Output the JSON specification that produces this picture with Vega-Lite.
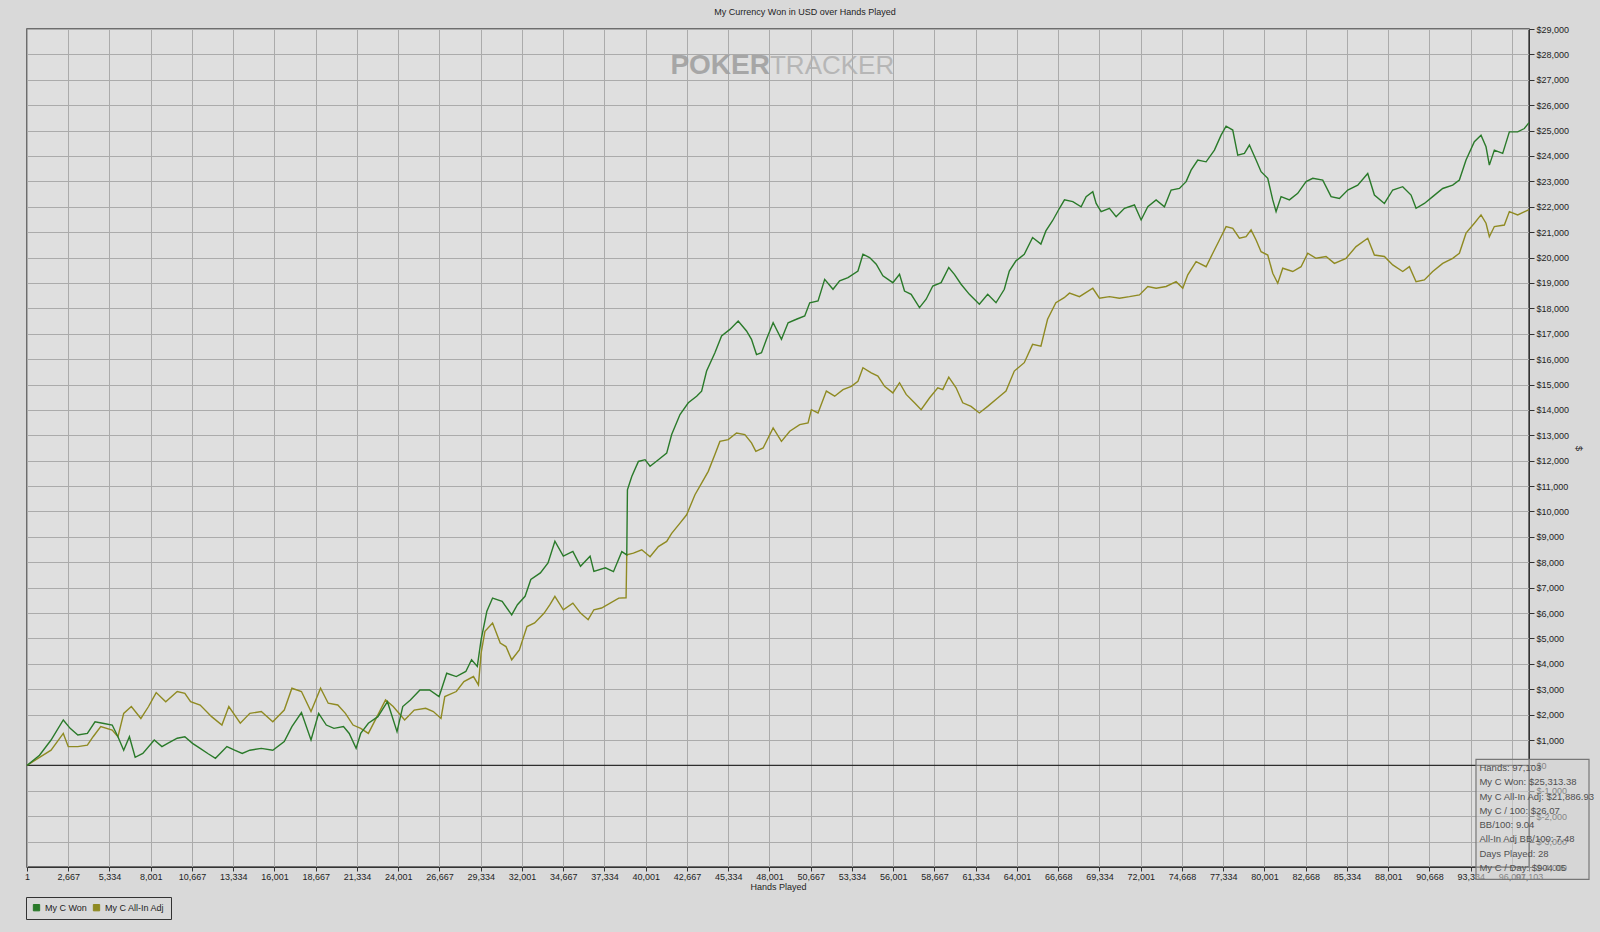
{
  "$schema": "https://vega.github.io/schema/vega-lite/v6.json",
  "description": "PokerTracker style graph: currency won over hands played",
  "width": 1502,
  "height": 838,
  "autosize": {"type": "none"},
  "padding": {"left": 27, "top": 29, "right": 71, "bottom": 65},
  "background": "#d9d9d9",
  "title": {
    "text": "My Currency Won in USD over Hands Played",
    "font": "Liberation Sans",
    "fontSize": 9,
    "fontWeight": "normal",
    "color": "#1e1e1e",
    "anchor": "middle",
    "dx": 27,
    "offset": 8
  },
  "config": {
    "font": "Liberation Sans",
    "view": {"fill": "#dfdfdf", "stroke": "#4a4a4a", "strokeWidth": 1.5},
    "axis": {
      "labelFont": "Liberation Sans",
      "labelFontSize": 9,
      "labelColor": "#1e1e1e",
      "labelOverlap": false,
      "labelFlush": false,
      "titleFont": "Liberation Sans",
      "titleFontSize": 9,
      "titleFontWeight": "normal",
      "titleColor": "#1e1e1e",
      "tickColor": "#333333",
      "domainColor": "#333333",
      "gridColor": "#ababab",
      "gridOpacity": 1,
      "gridWidth": 1
    },
    "axisY": {"tickCount": 40, "labelOverlap": false},
    "axisX": {"tickCount": 40}
  },
  "datasets": {
    "won": [
      {"h":1,"v":0},{"h":811,"v":400},{"h":1556,"v":1000},{"h":2347,"v":1790},{"h":2791,"v":1460},{"h":3286,"v":1200},{"h":3904,"v":1260},{"h":4398,"v":1720},{"h":4893,"v":1660},{"h":5510,"v":1590},{"h":5881,"v":1130},{"h":6252,"v":600},{"h":6622,"v":1130},{"h":6993,"v":320},{"h":7487,"v":470},{"h":8229,"v":1000},{"h":8723,"v":740},{"h":9094,"v":870},{"h":9712,"v":1070},{"h":10206,"v":1130},{"h":10700,"v":870},{"h":11195,"v":670},{"h":11689,"v":470},{"h":12183,"v":280},{"h":12925,"v":740},{"h":13419,"v":600},{"h":13914,"v":470},{"h":14408,"v":600},{"h":15149,"v":670},{"h":15891,"v":600},{"h":16632,"v":940},{"h":17126,"v":1530},{"h":17744,"v":2080},{"h":18362,"v":1000},{"h":18856,"v":2050},{"h":19350,"v":1590},{"h":19845,"v":1460},{"h":20462,"v":1530},{"h":20833,"v":1260},{"h":21278,"v":670},{"h":21574,"v":1260},{"h":22069,"v":1660},{"h":22686,"v":1920},{"h":23304,"v":2510},{"h":23922,"v":1330},{"h":24293,"v":2320},{"h":24787,"v":2580},{"h":25405,"v":2970},{"h":26023,"v":2970},{"h":26641,"v":2710},{"h":27135,"v":3630},{"h":27753,"v":3500},{"h":28371,"v":3700},{"h":28741,"v":4160},{"h":29112,"v":3900},{"h":29359,"v":4950},{"h":29730,"v":6070},{"h":30100,"v":6590},{"h":30718,"v":6460},{"h":31336,"v":5930},{"h":31707,"v":6330},{"h":32201,"v":6660},{"h":32572,"v":7320},{"h":33190,"v":7580},{"h":33684,"v":7970},{"h":34129,"v":8830},{"h":34673,"v":8240},{"h":35291,"v":8430},{"h":35785,"v":7840},{"h":36403,"v":8240},{"h":36650,"v":7640},{"h":37392,"v":7780},{"h":37915,"v":7630},{"h":38453,"v":8420},{"h":38775,"v":8290},{"h":38818,"v":10850},{"h":39098,"v":11380},{"h":39528,"v":11970},{"h":39958,"v":12040},{"h":40281,"v":11780},{"h":40818,"v":12040},{"h":41356,"v":12300},{"h":41678,"v":13030},{"h":42216,"v":13820},{"h":42754,"v":14280},{"h":43291,"v":14540},{"h":43614,"v":14740},{"h":43936,"v":15530},{"h":44474,"v":16250},{"h":44904,"v":16910},{"h":45442,"v":17170},{"h":45979,"v":17500},{"h":46517,"v":17110},{"h":46839,"v":16780},{"h":47162,"v":16180},{"h":47485,"v":16250},{"h":47807,"v":16780},{"h":48237,"v":17430},{"h":48775,"v":16780},{"h":49205,"v":17430},{"h":49743,"v":17570},{"h":50280,"v":17700},{"h":50603,"v":18220},{"h":51140,"v":18290},{"h":51570,"v":19140},{"h":52108,"v":18750},{"h":52538,"v":19080},{"h":53076,"v":19210},{"h":53721,"v":19470},{"h":54043,"v":20130},{"h":54473,"v":20000},{"h":54903,"v":19740},{"h":55333,"v":19280},{"h":55978,"v":19010},{"h":56408,"v":19340},{"h":56731,"v":18680},{"h":57161,"v":18550},{"h":57699,"v":18030},{"h":58129,"v":18360},{"h":58559,"v":18880},{"h":59097,"v":19010},{"h":59591,"v":19610},{"h":59957,"v":19340},{"h":60387,"v":18950},{"h":60925,"v":18550},{"h":61570,"v":18160},{"h":62108,"v":18550},{"h":62646,"v":18220},{"h":63183,"v":18750},{"h":63506,"v":19470},{"h":63936,"v":19870},{"h":64473,"v":20130},{"h":65011,"v":20790},{"h":65549,"v":20530},{"h":65871,"v":21050},{"h":66301,"v":21450},{"h":66749,"v":21940},{"h":67072,"v":22270},{"h":67611,"v":22200},{"h":68149,"v":22000},{"h":68472,"v":22400},{"h":68903,"v":22590},{"h":69119,"v":22130},{"h":69442,"v":21810},{"h":69980,"v":21940},{"h":70411,"v":21610},{"h":70950,"v":21940},{"h":71596,"v":22070},{"h":72027,"v":21480},{"h":72458,"v":22000},{"h":72996,"v":22270},{"h":73535,"v":22000},{"h":73966,"v":22660},{"h":74504,"v":22720},{"h":74935,"v":22990},{"h":75258,"v":23440},{"h":75689,"v":23840},{"h":76228,"v":23770},{"h":76766,"v":24230},{"h":77197,"v":24820},{"h":77520,"v":25170},{"h":77951,"v":25020},{"h":78274,"v":24030},{"h":78705,"v":24100},{"h":79028,"v":24430},{"h":79459,"v":23840},{"h":79782,"v":23380},{"h":80213,"v":23120},{"h":80537,"v":22270},{"h":80752,"v":21810},{"h":81075,"v":22400},{"h":81614,"v":22270},{"h":82153,"v":22530},{"h":82691,"v":22990},{"h":83122,"v":23120},{"h":83769,"v":23050},{"h":84308,"v":22400},{"h":84846,"v":22330},{"h":85385,"v":22660},{"h":86031,"v":22850},{"h":86677,"v":23310},{"h":87108,"v":22460},{"h":87754,"v":22130},{"h":88293,"v":22660},{"h":88939,"v":22790},{"h":89478,"v":22460},{"h":89801,"v":21940},{"h":90339,"v":22130},{"h":90878,"v":22400},{"h":91524,"v":22720},{"h":92170,"v":22850},{"h":92601,"v":23050},{"h":93032,"v":23840},{"h":93570,"v":24560},{"h":94001,"v":24820},{"h":94324,"v":24360},{"h":94540,"v":23640},{"h":94863,"v":24230},{"h":95402,"v":24100},{"h":95833,"v":24950},{"h":96371,"v":24950},{"h":96802,"v":25080},{"h":97103,"v":25313}
    ],
    "adj": [
      {"h":1,"v":0},{"h":811,"v":320},{"h":1556,"v":600},{"h":2347,"v":1260},{"h":2668,"v":740},{"h":3286,"v":740},{"h":3904,"v":800},{"h":4275,"v":1130},{"h":4769,"v":1530},{"h":5510,"v":1390},{"h":5881,"v":1130},{"h":6252,"v":2050},{"h":6746,"v":2320},{"h":7364,"v":1850},{"h":7858,"v":2320},{"h":8353,"v":2870},{"h":8971,"v":2510},{"h":9712,"v":2910},{"h":10206,"v":2840},{"h":10577,"v":2510},{"h":11195,"v":2380},{"h":11936,"v":1920},{"h":12603,"v":1590},{"h":13048,"v":2320},{"h":13790,"v":1660},{"h":14408,"v":2050},{"h":15149,"v":2120},{"h":15891,"v":1720},{"h":16632,"v":2180},{"h":17126,"v":3040},{"h":17744,"v":2910},{"h":18362,"v":2120},{"h":18980,"v":3040},{"h":19474,"v":2450},{"h":20092,"v":2380},{"h":20586,"v":2050},{"h":21080,"v":1590},{"h":21574,"v":1460},{"h":22069,"v":1260},{"h":22686,"v":1990},{"h":23180,"v":2580},{"h":23675,"v":2320},{"h":24416,"v":1790},{"h":25034,"v":2180},{"h":25775,"v":2250},{"h":26270,"v":2120},{"h":26764,"v":1850},{"h":27011,"v":2710},{"h":27753,"v":2910},{"h":28247,"v":3300},{"h":28865,"v":3500},{"h":29186,"v":3170},{"h":29359,"v":4420},{"h":29606,"v":5280},{"h":30100,"v":5610},{"h":30594,"v":4820},{"h":30965,"v":4680},{"h":31336,"v":4160},{"h":31830,"v":4550},{"h":32325,"v":5470},{"h":32819,"v":5610},{"h":33437,"v":6000},{"h":33808,"v":6330},{"h":34129,"v":6660},{"h":34673,"v":6130},{"h":35291,"v":6390},{"h":35785,"v":6000},{"h":36279,"v":5740},{"h":36650,"v":6130},{"h":37145,"v":6200},{"h":38257,"v":6590},{"h":38730,"v":6600},{"h":38775,"v":8290},{"h":39205,"v":8360},{"h":39743,"v":8490},{"h":40281,"v":8220},{"h":40818,"v":8620},{"h":41356,"v":8820},{"h":41678,"v":9140},{"h":42216,"v":9540},{"h":42646,"v":9870},{"h":43184,"v":10660},{"h":43614,"v":11120},{"h":44044,"v":11580},{"h":44474,"v":12240},{"h":44796,"v":12760},{"h":45334,"v":12830},{"h":45872,"v":13090},{"h":46409,"v":13030},{"h":46839,"v":12700},{"h":47119,"v":12370},{"h":47592,"v":12500},{"h":48237,"v":13290},{"h":48775,"v":12760},{"h":49312,"v":13160},{"h":49957,"v":13420},{"h":50495,"v":13490},{"h":50710,"v":14010},{"h":51140,"v":13880},{"h":51678,"v":14740},{"h":52216,"v":14540},{"h":52753,"v":14800},{"h":53291,"v":14930},{"h":53721,"v":15130},{"h":54043,"v":15660},{"h":54581,"v":15460},{"h":55011,"v":15330},{"h":55441,"v":14930},{"h":55978,"v":14670},{"h":56408,"v":15070},{"h":56838,"v":14610},{"h":57376,"v":14280},{"h":57806,"v":14010},{"h":58344,"v":14470},{"h":58882,"v":14870},{"h":59205,"v":14800},{"h":59591,"v":15290},{"h":60065,"v":14870},{"h":60495,"v":14280},{"h":61032,"v":14140},{"h":61570,"v":13880},{"h":62108,"v":14140},{"h":62753,"v":14470},{"h":63291,"v":14740},{"h":63829,"v":15530},{"h":64473,"v":15860},{"h":65011,"v":16580},{"h":65549,"v":16510},{"h":65979,"v":17570},{"h":66516,"v":18220},{"h":67054,"v":18420},{"h":67395,"v":18600},{"h":68042,"v":18460},{"h":68903,"v":18790},{"h":69334,"v":18400},{"h":69980,"v":18460},{"h":70627,"v":18400},{"h":71273,"v":18460},{"h":71919,"v":18530},{"h":72458,"v":18860},{"h":72996,"v":18790},{"h":73643,"v":18860},{"h":74289,"v":19050},{"h":74720,"v":18790},{"h":75043,"v":19320},{"h":75581,"v":19840},{"h":76228,"v":19640},{"h":76659,"v":20170},{"h":77089,"v":20690},{"h":77520,"v":21220},{"h":77951,"v":21150},{"h":78382,"v":20760},{"h":78812,"v":20820},{"h":79135,"v":21090},{"h":79459,"v":20690},{"h":79782,"v":20230},{"h":80213,"v":20100},{"h":80537,"v":19380},{"h":80860,"v":18990},{"h":81183,"v":19580},{"h":81829,"v":19450},{"h":82368,"v":19640},{"h":82799,"v":20170},{"h":83338,"v":19970},{"h":83984,"v":20040},{"h":84523,"v":19770},{"h":85277,"v":19970},{"h":85923,"v":20430},{"h":86677,"v":20760},{"h":87108,"v":20100},{"h":87754,"v":20040},{"h":88293,"v":19710},{"h":88939,"v":19450},{"h":89370,"v":19640},{"h":89801,"v":19050},{"h":90339,"v":19120},{"h":90878,"v":19450},{"h":91524,"v":19770},{"h":92170,"v":19970},{"h":92601,"v":20170},{"h":93032,"v":20960},{"h":93570,"v":21350},{"h":94001,"v":21680},{"h":94324,"v":21350},{"h":94540,"v":20820},{"h":94863,"v":21220},{"h":95510,"v":21280},{"h":95833,"v":21810},{"h":96371,"v":21680},{"h":97103,"v":21887}
    ]
  },
  "layer": [
    {
      "data": {"values": [{}]},
      "mark": {"type": "text", "align": "right", "baseline": "middle", "fontSize": 28, "fontWeight": "bold", "color": "#9d9d9d", "opacity": 0.85},
      "encoding": {
        "x": {
          "datum": 48034,
          "type": "quantitative",
          "scale": {"domain": [1, 97103], "nice": false, "zero": false},
          "axis": {
            "title": "Hands Played",
            "tickCount": 40,
            "values": [1, 2667, 5334, 8001, 10667, 13334, 16001, 18667, 21334, 24001, 26667, 29334, 32001, 34667, 37334, 40001, 42667, 45334, 48001, 50667, 53334, 56001, 58667, 61334, 64001, 66668, 69334, 72001, 74668, 77334, 80001, 82668, 85334, 88001, 90668, 93334, 96001, 97103],
            "labelExpr": "format(datum.value, ',d')",
            "grid": true,
            "labelOverlap": false,
            "labelFlush": false,
            "tickSize": 4,
            "labelPadding": 1,
            "titlePadding": 1
          }
        },
        "y": {
          "datum": 27560,
          "type": "quantitative",
          "scale": {"domain": [-4000, 29000], "nice": false, "zero": false},
          "axis": {"orient": "right", "title": "$", "tickCount": 40, "values": [-4000, -3000, -2000, -1000, 0, 1000, 2000, 3000, 4000, 5000, 6000, 7000, 8000, 9000, 10000, 11000, 12000, 13000, 14000, 15000, 16000, 17000, 18000, 19000, 20000, 21000, 22000, 23000, 24000, 25000, 26000, 27000, 28000, 29000], "labelExpr": "datum.value < 0 ? '$-' + format(-datum.value, ',d') : '$' + format(datum.value, ',d')", "grid": true, "labelOverlap": false, "labelFlush": false, "tickSize": 5, "labelPadding": 2, "titlePadding": 5}
        },
        "text": {"value": "POKER"}
      }
    },
    {
      "data": {"values": [{}]},
      "mark": {"type": "text", "align": "left", "baseline": "middle", "fontSize": 26, "fontWeight": "normal", "color": "#b0b0b0", "opacity": 0.85},
      "encoding": {
        "x": {"datum": 48034, "type": "quantitative"},
        "y": {
          "datum": 27560,
          "type": "quantitative",
          "axis": {"orient": "right", "title": "$", "tickCount": 40, "values": [-4000, -3000, -2000, -1000, 0, 1000, 2000, 3000, 4000, 5000, 6000, 7000, 8000, 9000, 10000, 11000, 12000, 13000, 14000, 15000, 16000, 17000, 18000, 19000, 20000, 21000, 22000, 23000, 24000, 25000, 26000, 27000, 28000, 29000], "labelExpr": "datum.value < 0 ? '$-' + format(-datum.value, ',d') : '$' + format(datum.value, ',d')", "grid": true, "labelOverlap": false, "labelFlush": false, "tickSize": 5, "labelPadding": 2, "titlePadding": 5}
        },
        "text": {"value": "TRACKER"}
      }
    },
    {
      "data": {"values": [{}]},
      "mark": {"type": "rule", "color": "#2e2e2e", "strokeWidth": 1.2},
      "encoding": {
        "y": {
          "datum": 0,
          "type": "quantitative",
          "axis": {"orient": "right", "title": "$", "tickCount": 40, "values": [-4000, -3000, -2000, -1000, 0, 1000, 2000, 3000, 4000, 5000, 6000, 7000, 8000, 9000, 10000, 11000, 12000, 13000, 14000, 15000, 16000, 17000, 18000, 19000, 20000, 21000, 22000, 23000, 24000, 25000, 26000, 27000, 28000, 29000], "labelExpr": "datum.value < 0 ? '$-' + format(-datum.value, ',d') : '$' + format(datum.value, ',d')", "grid": true, "labelOverlap": false, "labelFlush": false, "tickSize": 5, "labelPadding": 2, "titlePadding": 5}
        }
      }
    },
    {
      "data": {"name": "adj"},
      "mark": {"type": "line", "strokeWidth": 1.4},
      "encoding": {
        "x": {"field": "h", "type": "quantitative"},
        "y": {
          "field": "v",
          "type": "quantitative",
          "axis": {"orient": "right", "title": "$", "tickCount": 40, "values": [-4000, -3000, -2000, -1000, 0, 1000, 2000, 3000, 4000, 5000, 6000, 7000, 8000, 9000, 10000, 11000, 12000, 13000, 14000, 15000, 16000, 17000, 18000, 19000, 20000, 21000, 22000, 23000, 24000, 25000, 26000, 27000, 28000, 29000], "labelExpr": "datum.value < 0 ? '$-' + format(-datum.value, ',d') : '$' + format(datum.value, ',d')", "grid": true, "labelOverlap": false, "labelFlush": false, "tickSize": 5, "labelPadding": 2, "titlePadding": 5}
        },
        "color": {
          "datum": "My C All-In Adj",
          "type": "nominal",
          "scale": {"domain": ["My C Won", "My C All-In Adj"], "range": ["#2a7a2a", "#8f8a22"]},
          "legend": {
            "title": null,
            "orient": "none",
            "legendX": -1,
            "legendY": 868,
            "direction": "horizontal",
            "symbolType": "square",
            "symbolSize": 40,
            "symbolStrokeWidth": 1,
            "labelFontSize": 9,
            "labelColor": "#1e1e1e",
            "strokeColor": "#333333",
            "padding": 6,
            "columnPadding": 4,
            "encode": {
              "symbols": {"update": {"fill": {"scale": "color", "field": "value"}, "stroke": {"value": "#222222"}, "strokeWidth": {"value": 1}}}
            }
          }
        }
      }
    },
    {
      "data": {"name": "won"},
      "mark": {"type": "line", "strokeWidth": 1.4},
      "encoding": {
        "x": {"field": "h", "type": "quantitative"},
        "y": {
          "field": "v",
          "type": "quantitative",
          "axis": {"orient": "right", "title": "$", "tickCount": 40, "values": [-4000, -3000, -2000, -1000, 0, 1000, 2000, 3000, 4000, 5000, 6000, 7000, 8000, 9000, 10000, 11000, 12000, 13000, 14000, 15000, 16000, 17000, 18000, 19000, 20000, 21000, 22000, 23000, 24000, 25000, 26000, 27000, 28000, 29000], "labelExpr": "datum.value < 0 ? '$-' + format(-datum.value, ',d') : '$' + format(datum.value, ',d')", "grid": true, "labelOverlap": false, "labelFlush": false, "tickSize": 5, "labelPadding": 2, "titlePadding": 5}
        },
        "color": {"datum": "My C Won", "type": "nominal"}
      }
    },
    {
      "data": {"values": [{}]},
      "mark": {"type": "rect", "fill": "#d4d4d4", "fillOpacity": 0.55, "stroke": "#777777", "strokeWidth": 1.2},
      "encoding": {
        "x": {"datum": 93676, "type": "quantitative"},
        "x2": {"datum": 100982},
        "y": {
          "datum": 236,
          "type": "quantitative",
          "axis": {"orient": "right", "title": "$", "tickCount": 40, "values": [-4000, -3000, -2000, -1000, 0, 1000, 2000, 3000, 4000, 5000, 6000, 7000, 8000, 9000, 10000, 11000, 12000, 13000, 14000, 15000, 16000, 17000, 18000, 19000, 20000, 21000, 22000, 23000, 24000, 25000, 26000, 27000, 28000, 29000], "labelExpr": "datum.value < 0 ? '$-' + format(-datum.value, ',d') : '$' + format(datum.value, ',d')", "grid": true, "labelOverlap": false, "labelFlush": false, "tickSize": 5, "labelPadding": 2, "titlePadding": 5}
        },
        "y2": {"datum": -4488}
      }
    },
    {
      "data": {"values": [{}]},
      "mark": {"type": "text", "align": "left", "baseline": "top", "fontSize": 9.5, "lineHeight": 14.3, "color": "#505050", "dy": -2.5},
      "encoding": {
        "x": {"datum": 93900, "type": "quantitative"},
        "y": {
          "datum": 0,
          "type": "quantitative",
          "axis": {"orient": "right", "title": "$", "tickCount": 40, "values": [-4000, -3000, -2000, -1000, 0, 1000, 2000, 3000, 4000, 5000, 6000, 7000, 8000, 9000, 10000, 11000, 12000, 13000, 14000, 15000, 16000, 17000, 18000, 19000, 20000, 21000, 22000, 23000, 24000, 25000, 26000, 27000, 28000, 29000], "labelExpr": "datum.value < 0 ? '$-' + format(-datum.value, ',d') : '$' + format(datum.value, ',d')", "grid": true, "labelOverlap": false, "labelFlush": false, "tickSize": 5, "labelPadding": 2, "titlePadding": 5}
        },
        "text": {"value": ["Hands: 97,103", "My C Won: $25,313.38", "My C All-In Adj: $21,886.93", "My C / 100: $26.07", "BB/100: 9.04", "All-In Adj BB/100: 7.48", "Days Played: 28", "My C / Day: $904.05"]}
      }
    }
  ]
}
